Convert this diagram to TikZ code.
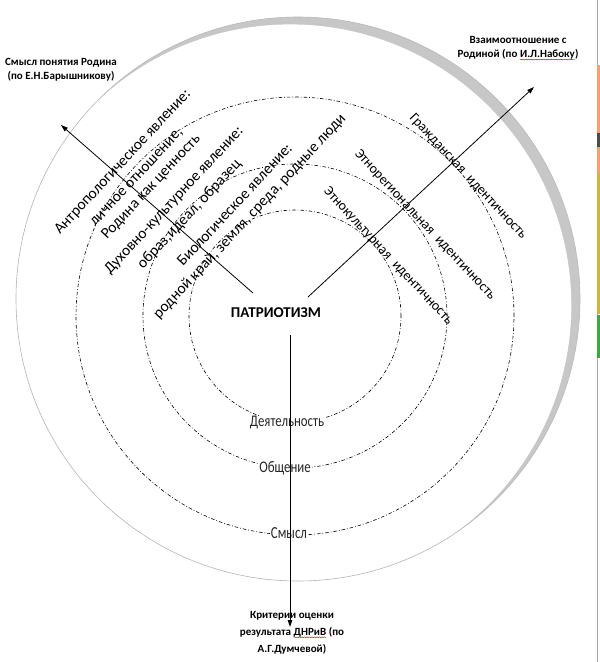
\documentclass[tikz,border=0pt]{standalone}
\usepackage{fontspec}
\setmainfont{Carlito}
\usetikzlibrary{arrows.meta,decorations.pathmorphing}
\newcommand\squig[1]{\tikz[baseline=(sqw.base)]{\node[inner sep=0pt,outer sep=0pt] (sqw) {#1};\draw[red!85!black,line width=0.4pt,decorate,decoration={snake,amplitude=0.5pt,segment length=2.5pt}] ([yshift=-1.6pt]sqw.base west) -- ([yshift=-1.6pt]sqw.base east);}}
\definecolor{ringgray}{gray}{0.78}
\definecolor{thingray}{gray}{0.72}
\definecolor{labgray}{gray}{0.15}
\begin{document}
\begin{tikzpicture}[x=1pt,y=-1pt,
  lefttext/.style={font=\fontsize{15.5}{18}\selectfont,inner sep=0pt,anchor=base west,rotate=47},
  righttext/.style={font=\fontsize{14}{17}\selectfont,inner sep=0pt,anchor=center,rotate=-47},
  ringlabel/.style={font=\fontsize{13.5}{16}\selectfont,text=labgray,fill=white,inner sep=1pt},
  cornerlabel/.style={font=\bfseries\fontsize{11}{14}\selectfont,align=center,inner sep=0pt},
  dashcirc/.style={line width=0.6pt,dash pattern=on 3.5pt off 2pt on 0.8pt off 2pt},
  arr/.style={line width=0.8pt,-{Triangle[length=7pt,width=4.5pt]}}]
\useasboundingbox (0,0) rectangle (600,662);
% outer ring (crescent)
\begin{scope}
  \clip (298,299) circle[radius=282pt];
  \fill[ringgray] (298,299) circle[radius=282pt];
  \fill[white] (290.3,305.4) circle[radius=281pt];
\end{scope}
\draw[thingray,line width=0.6pt] (298,299) circle[radius=282pt];
% right edge strip
\fill[gray!70] (597,0) rectangle (598,662);
\fill[orange!70!red!60] (597,65) rectangle (600,173);
\fill[black!70] (597,133) rectangle (600,147);
\fill[yellow!60!orange!80!black!90] (597,173) rectangle (600,314);
\fill[green!60!black!80] (597,315) rectangle (600,358);
% dash-dot circles
\draw[dashcirc] (295,316) circle[radius=106pt];
\draw[dashcirc] (295,316) circle[radius=152pt];
\draw[dashcirc] (295,316) circle[radius=219pt];
% left rotated texts
\node[lefttext] (t1) at (60,235) {Антропологическое явление:};
\node[lefttext] (t2) at (95,227) {личное отношение,};
\node[lefttext] (t3) at (107,240) {Родина как ценность};
\node[lefttext] (t4) at (110,275) {Духовно-культурное явление:};
\node[lefttext] (t5) at (143,270) {образ,идеал, образец};
\node[lefttext] (t6) at (183,267) {Биологическое явление:};
\node[lefttext] (t7) at (159,320) {родной край, земля, среда, родные люди};
% right rotated texts
\node[righttext] (t8) at (468,177) {Гражданская\enspace идентичность};
\node[righttext] (t9) at (425,225) {Этнорегиональная\enspace идентичность};
\node[righttext] (t10) at (388,256) {Этнокультурная\enspace идентичность};
% centre
\node[font=\bfseries\fontsize{15}{18}\selectfont,inner sep=1pt] (pat) at (276,313) {ПАТРИОТИЗМ};
% ring labels
\node[ringlabel] (act) at (287,423) {\scalebox{0.95}[1.2]{Деятельность}};
\node[ringlabel] (com) at (285,468) {\scalebox{0.95}[1.2]{Общение}};
\node[ringlabel] (sen) at (289,533) {\scalebox{0.95}[1.25]{Смысл}};
% corner labels
\node[cornerlabel] (lab1) at (61,70) {Смысл понятия Родина\\(по Е.Н.Барышникову)};
\node[cornerlabel] (lab2) at (518,48.5) {Взаимоотношение с\\Родиной (по \squig{И.Л.Набоку})};
\node[cornerlabel,font=\bfseries\fontsize{11}{17}\selectfont] (lab3) at (292,633) {Критерии оценки\\результата \squig{ДНРиВ} (по\\А.Г.Думчевой)};
% arrows
\coordinate (a1s) at (253,293);
\coordinate (a1e) at (61,125);
\coordinate (a2s) at (308,297);
\coordinate (a2e) at (534,87);
\coordinate (a3s) at (290,335);
\coordinate (a3e) at (290,627);
\draw[arr] (a1s) -- (a1e);
\draw[arr] (a2s) -- (a2e);
\draw[arr] (a3s) -- (a3e);
\end{tikzpicture}
\end{document}
